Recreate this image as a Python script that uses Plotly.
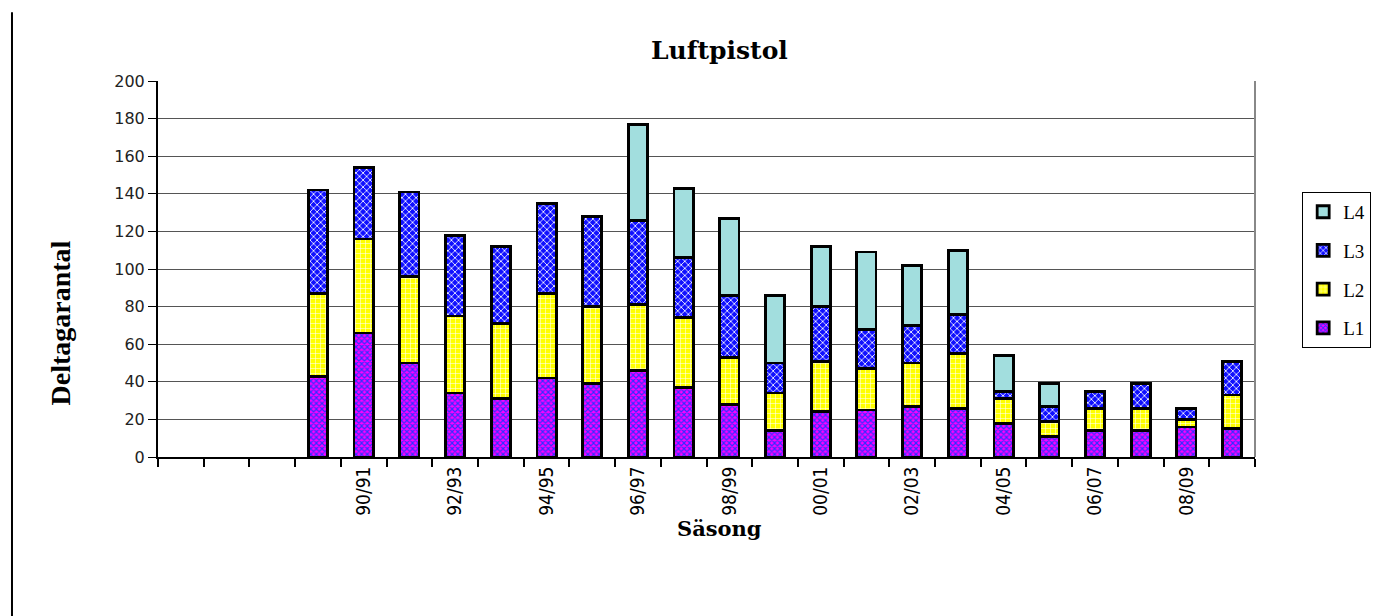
import plotly.graph_objects as go

seasons = ["86/87", "87/88", "88/89", "89/90", "90/91", "91/92", "92/93", "93/94",
           "94/95", "95/96", "96/97", "97/98", "98/99", "99/00", "00/01", "01/02",
           "02/03", "03/04", "04/05", "05/06", "06/07", "07/08", "08/09", "09/10"]
L1 = [None, None, None, 43, 66, 50, 34, 31, 42, 39, 46, 37, 28, 14, 24, 25, 27, 26, 18, 11, 14, 14, 16, 15]
L2 = [None, None, None, 44, 50, 46, 41, 40, 45, 41, 35, 37, 25, 20, 27, 22, 23, 29, 13, 8, 12, 12, 4, 18]
L3 = [None, None, None, 55, 38, 45, 43, 41, 48, 48, 45, 32, 33, 16, 29, 21, 20, 21, 4, 8, 9, 13, 6, 18]
L4 = [None, None, None, None, None, None, None, None, None, None, 51, 37, 41, 36, 32, 41, 32, 34, 19, 12, None, None, None, None]
labeled = ["90/91", "92/93", "94/95", "96/97", "98/99", "00/01", "02/03", "04/05", "06/07", "08/09"]

xpos = list(range(len(seasons)))

fig = go.Figure()
styles = [
    ("L1", L1, 4, dict(color="#FF00FF", pattern=dict(shape="x", fgcolor="#3030FF", bgcolor="#FF00FF", size=4, solidity=0.5, fillmode="replace"))),
    ("L2", L2, 3, dict(color="#FFFF00", pattern=dict(shape="+", fgcolor="#FFFFFF", bgcolor="#FFFF00", size=5, solidity=0.2, fillmode="replace"))),
    ("L3", L3, 2, dict(color="#1010FF", pattern=dict(shape="x", fgcolor="#FFFFFF", bgcolor="#1010FF", size=5, solidity=0.3, fillmode="replace"))),
    ("L4", L4, 1, dict(color="#A2DEDE")),
]
for name, vals, rank, mk in styles:
    mk = dict(mk)
    mk["line"] = dict(color="black", width=2.8)
    fig.add_trace(go.Bar(x=xpos, y=vals, name=name, marker=mk, legendgroup=name, legendrank=rank))

tickvals = [seasons.index(s) for s in labeled]

fig.update_layout(
    barmode="stack",
    bargap=0.58,
    width=1380, height=608,
    margin=dict(l=150, r=133, t=73, b=159),
    plot_bgcolor="white", paper_bgcolor="white",
    showlegend=True,
    legend=dict(x=1.043, y=0.705, xanchor="left", yanchor="top",
                traceorder="grouped", tracegroupgap=11,
                bordercolor="black", borderwidth=1,
                font=dict(family="Liberation Serif, Times New Roman, serif", size=19, color="black"),
                itemwidth=30),
    xaxis=dict(range=[-0.5, len(seasons) - 0.5], tickmode="array", tickvals=tickvals,
               ticktext=labeled, tickangle=-90, ticks="", showgrid=False,
               showline=True, linecolor="black", linewidth=2,
               tickfont=dict(family="Liberation Sans Narrow, DejaVu Sans Condensed, Liberation Sans, sans-serif", size=19, color="black"),
               minor=dict(tickmode="linear", tick0=0.5, dtick=1, ticks="outside", ticklen=8,
                          tickcolor="black", tickwidth=2, showgrid=False),
               zeroline=False),
    yaxis=dict(range=[0, 200], dtick=20, showgrid=True, gridcolor="#555555", gridwidth=1,
               showline=True, linecolor="black", linewidth=2, ticks="outside", ticklen=8,
               tickcolor="black", tickwidth=1,
               tickfont=dict(family="DejaVu Sans, Verdana, sans-serif", size=16, color="#222222"),
               zeroline=False),
    shapes=[
        dict(type="line", xref="paper", yref="paper", x0=1, x1=1, y0=0, y1=1,
             line=dict(color="#888888", width=2)),
        dict(type="line", xref="paper", yref="paper", x0=-0.1331, x1=-0.1331, y0=-0.45, y1=1.183,
             line=dict(color="black", width=2)),
    ],
    annotations=[
        dict(text="<b>Luftpistol</b>", xref="paper", yref="paper", x=0.512, y=1.082,
             showarrow=False, xanchor="center", yanchor="middle",
             font=dict(family="DejaVu Serif, serif", size=25, color="black")),
        dict(text="<b>Säsong</b>", xref="paper", yref="paper", x=0.512, y=-0.189,
             showarrow=False, xanchor="center", yanchor="middle",
             font=dict(family="DejaVu Serif, serif", size=21, color="black")),
        dict(text="<b>Deltagarantal</b>", xref="paper", yref="paper", x=-0.089, y=0.356,
             showarrow=False, xanchor="center", yanchor="middle", textangle=-90,
             font=dict(family="Liberation Serif, Times New Roman, serif", size=28, color="black")),
    ],
)

fig.write_html("out.html")
